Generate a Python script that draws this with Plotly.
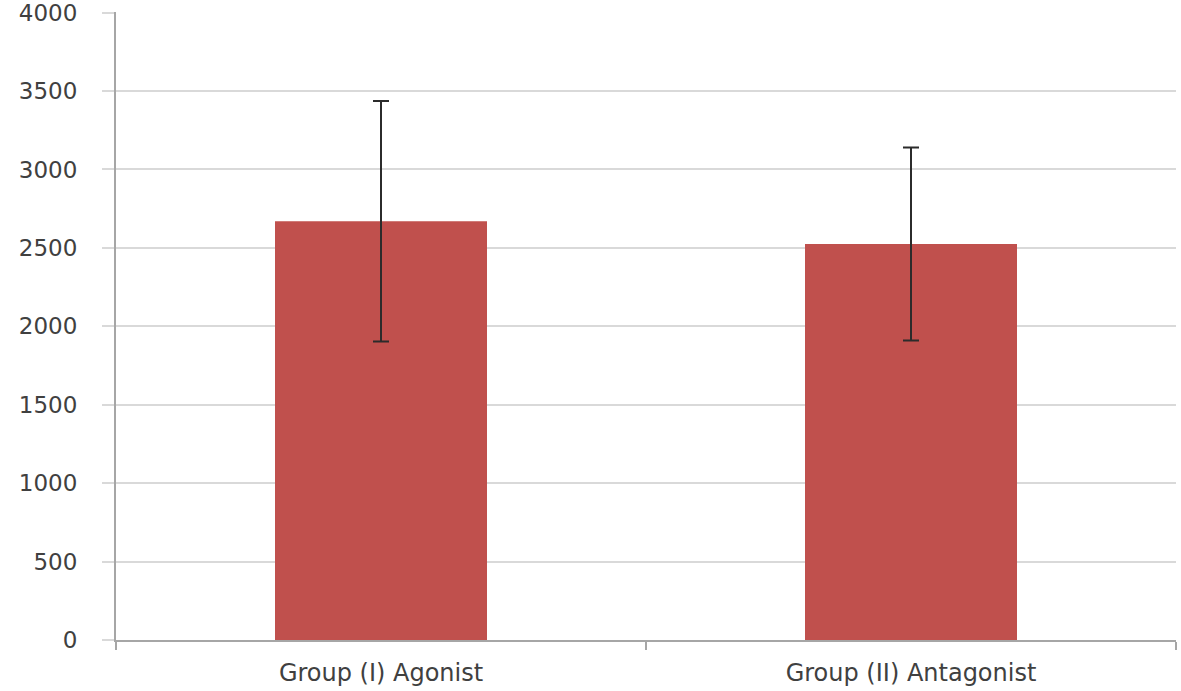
import plotly.graph_objects as go

categories = ["Group (I) Agonist", "Group (II) Antagonist"]
means = [2670, 2525]
errors = [767, 615]
y_ticks = [0, 500, 1000, 1500, 2000, 2500, 3000, 3500, 4000]

fig = go.Figure()
fig.add_trace(go.Bar(
    x=categories, y=means,
    marker=dict(color="#c0504d", line=dict(width=0)),
    error_y=dict(type="data", array=errors, visible=True,
                 color="#2b2b2b", thickness=2, width=8),
    width=0.4,
))

font_family = "DejaVu Sans"
fig.update_layout(
    width=1181, height=691,
    margin=dict(l=116, r=5, t=12, b=51, autoexpand=False),
    paper_bgcolor="white", plot_bgcolor="white",
    showlegend=False,
    font=dict(family=font_family, size=23, color="#404040"),
    xaxis=dict(
        automargin=False,
        showline=True, linecolor="#a6a6a6", linewidth=2,
        ticks="outside", tickson="boundaries", ticklen=8, tickcolor="#a6a6a6", tickwidth=2,
        showgrid=False, tickfont=dict(size=24, color="#404040"),
        ticklabelstandoff=10,
    ),
    yaxis=dict(
        automargin=False,
        range=[0, 4004], tickvals=y_ticks,
        showline=True, linecolor="#a6a6a6", linewidth=2,
        ticks="outside", ticklen=12, tickcolor="#d9d9d9", tickwidth=2,
        showgrid=True, gridcolor="#d9d9d9", gridwidth=2,
        zeroline=False, ticklabelstandoff=20, ticklabeloverflow="allow",
        tickfont=dict(size=23, color="#404040"),
    ),
)
fig.write_html("out.html", config={"displayModeBar": False},
               post_script="document.body.style.margin='0';")
